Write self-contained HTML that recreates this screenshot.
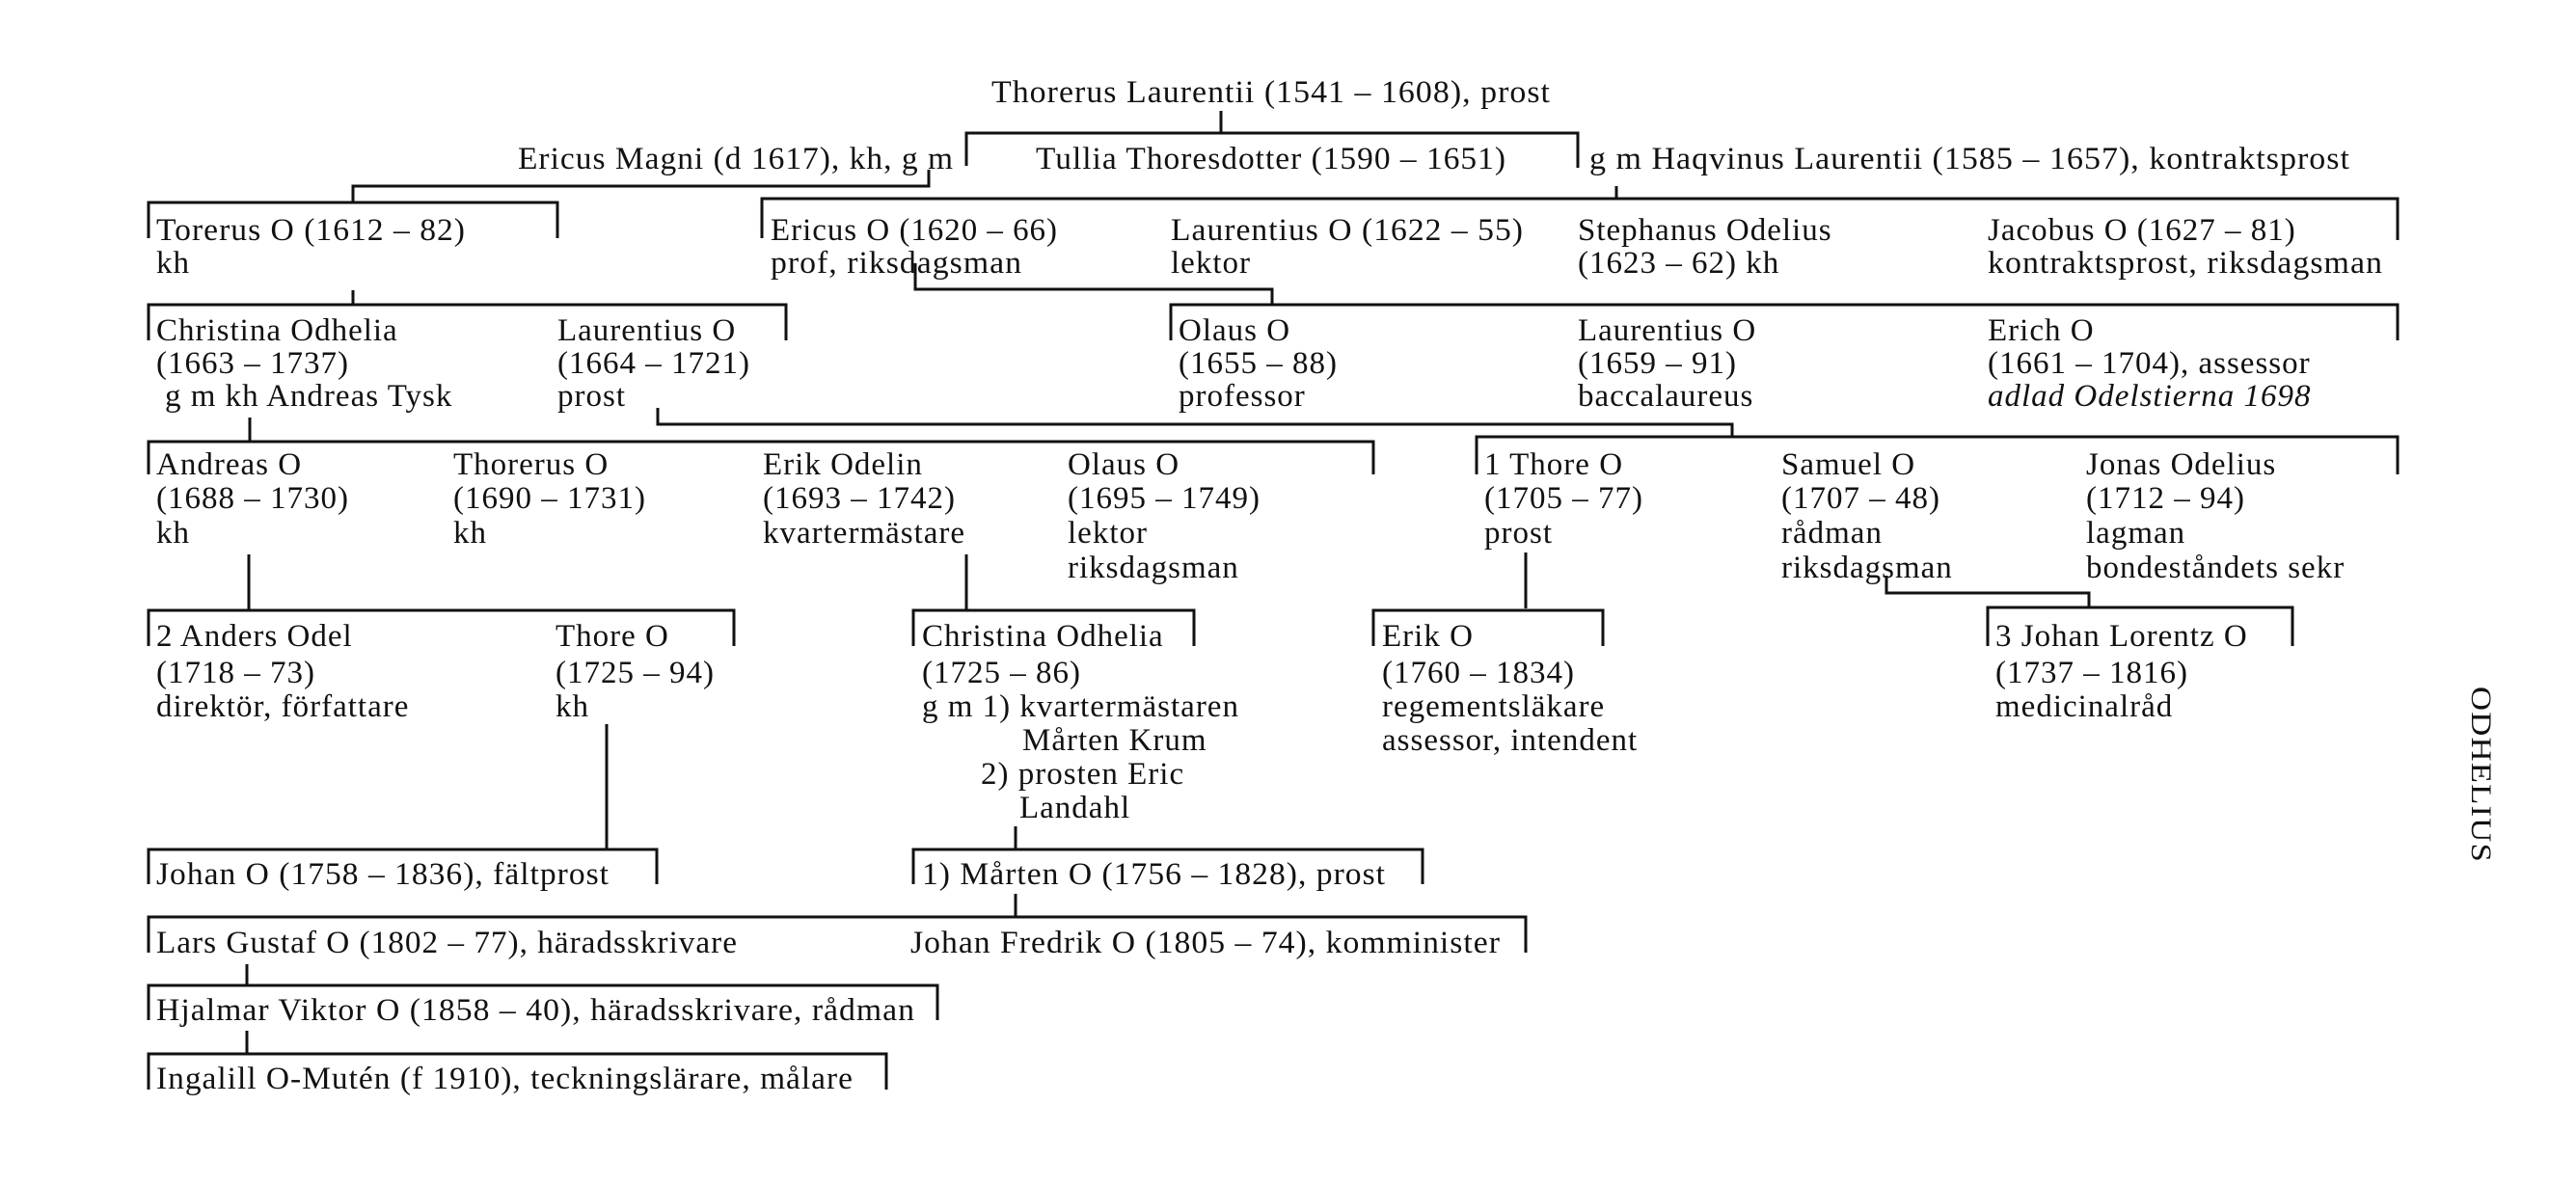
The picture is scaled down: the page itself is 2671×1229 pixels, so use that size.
<!DOCTYPE html>
<html><head><meta charset="utf-8"><style>
html,body{margin:0;padding:0;background:#fff;}
svg{display:block;}
text{font-family:"Liberation Serif",serif;font-size:33px;letter-spacing:1px;fill:#111;}
</style></head><body>
<svg width="2671" height="1229" viewBox="0 0 2671 1229" xmlns="http://www.w3.org/2000/svg">
<g fill="none" stroke="#111" stroke-width="3">
<path d="M1266 115V138M1002 172V138H1636V174"/>
<path d="M963 176V193H366V210"/>
<path d="M154 247V210H578V247"/>
<path d="M1676 193V206M790 247V206H2486V249"/>
<path d="M949 273V300H1319V316"/>
<path d="M366 301V316"/>
<path d="M154 353V316H815V353"/>
<path d="M1214 353V316H2486V353"/>
<path d="M682 423V440H1796V453"/>
<path d="M1531 492V453H2486V492"/>
<path d="M259 433V458M154 492V458H1424V492"/>
<path d="M258 575V633M1002 575V633M1582 573V631"/>
<path d="M1956 597V615H2166V630"/>
<path d="M154 670V633H761V670"/>
<path d="M947 670V633H1238V670"/>
<path d="M1424 670V633H1662V670"/>
<path d="M2061 670V630H2377V670"/>
<path d="M629 751V881M154 917V881H681V917"/>
<path d="M1053 857V881M947 917V881H1475V917"/>
<path d="M1053 927V951M154 988V951H1582V988"/>
<path d="M256 1000V1022M154 1058V1022H972V1058"/>
<path d="M256 1069V1093M154 1130V1093H919V1130"/>
</g>
<g>
<text x="1028" y="106" textLength="580" lengthAdjust="spacingAndGlyphs">Thorerus Laurentii (1541 – 1608), prost</text>
<text x="537" y="175" textLength="452" lengthAdjust="spacingAndGlyphs">Ericus Magni (d 1617), kh, g m</text>
<text x="1074" y="175" textLength="488" lengthAdjust="spacingAndGlyphs">Tullia Thoresdotter (1590 – 1651)</text>
<text x="1648" y="175" textLength="789" lengthAdjust="spacingAndGlyphs">g m Haqvinus Laurentii (1585 – 1657), kontraktsprost</text>

<text x="162" y="249" textLength="321" lengthAdjust="spacingAndGlyphs">Torerus O (1612 – 82)</text>
<text x="162" y="283">kh</text>
<text x="799" y="249" textLength="298" lengthAdjust="spacingAndGlyphs">Ericus O (1620 – 66)</text>
<text x="799" y="283" textLength="261" lengthAdjust="spacingAndGlyphs">prof, riksdagsman</text>
<text x="1214" y="249" textLength="366" lengthAdjust="spacingAndGlyphs">Laurentius O (1622 – 55)</text>
<text x="1214" y="283">lektor</text>
<text x="1636" y="249">Stephanus Odelius</text>
<text x="1636" y="283">(1623 – 62) kh</text>
<text x="2061" y="249">Jacobus O (1627 – 81)</text>
<text x="2061" y="283" textLength="410" lengthAdjust="spacingAndGlyphs">kontraktsprost, riksdagsman</text>

<text x="162" y="353">Christina Odhelia</text>
<text x="162" y="387">(1663 – 1737)</text>
<text x="171" y="421">g m kh Andreas Tysk</text>
<text x="578" y="353">Laurentius O</text>
<text x="578" y="387">(1664 – 1721)</text>
<text x="578" y="421">prost</text>
<text x="1222" y="353">Olaus O</text>
<text x="1222" y="387">(1655 – 88)</text>
<text x="1222" y="421">professor</text>
<text x="1636" y="353">Laurentius O</text>
<text x="1636" y="387">(1659 – 91)</text>
<text x="1636" y="421">baccalaureus</text>
<text x="2061" y="353">Erich O</text>
<text x="2061" y="387">(1661 – 1704), assessor</text>
<text x="2061" y="421" font-style="italic">adlad Odelstierna 1698</text>

<text x="162" y="492">Andreas O</text>
<text x="162" y="527">(1688 – 1730)</text>
<text x="162" y="563">kh</text>
<text x="470" y="492">Thorerus O</text>
<text x="470" y="527">(1690 – 1731)</text>
<text x="470" y="563">kh</text>
<text x="791" y="492">Erik Odelin</text>
<text x="791" y="527">(1693 – 1742)</text>
<text x="791" y="563">kvartermästare</text>
<text x="1107" y="492">Olaus O</text>
<text x="1107" y="527">(1695 – 1749)</text>
<text x="1107" y="563">lektor</text>
<text x="1107" y="599">riksdagsman</text>
<text x="1539" y="492">1 Thore O</text>
<text x="1539" y="527">(1705 – 77)</text>
<text x="1539" y="563">prost</text>
<text x="1847" y="492">Samuel O</text>
<text x="1847" y="527">(1707 – 48)</text>
<text x="1847" y="563">rådman</text>
<text x="1847" y="599">riksdagsman</text>
<text x="2163" y="492">Jonas Odelius</text>
<text x="2163" y="527">(1712 – 94)</text>
<text x="2163" y="563">lagman</text>
<text x="2163" y="599">bondeståndets sekr</text>

<text x="162" y="670">2 Anders Odel</text>
<text x="162" y="708">(1718 – 73)</text>
<text x="162" y="743">direktör, författare</text>
<text x="576" y="670">Thore O</text>
<text x="576" y="708">(1725 – 94)</text>
<text x="576" y="743">kh</text>
<text x="956" y="670">Christina Odhelia</text>
<text x="956" y="708">(1725 – 86)</text>
<text x="956" y="743">g m 1) kvartermästaren</text>
<text x="1060" y="778">Mårten Krum</text>
<text x="1017" y="813">2) prosten Eric</text>
<text x="1057" y="848">Landahl</text>
<text x="1433" y="670">Erik O</text>
<text x="1433" y="708">(1760 – 1834)</text>
<text x="1433" y="743">regementsläkare</text>
<text x="1433" y="778">assessor, intendent</text>
<text x="2069" y="670">3 Johan Lorentz O</text>
<text x="2069" y="708">(1737 – 1816)</text>
<text x="2069" y="743">medicinalråd</text>

<text x="162" y="917" textLength="470" lengthAdjust="spacingAndGlyphs">Johan O (1758 – 1836), fältprost</text>
<text x="956" y="917" textLength="481" lengthAdjust="spacingAndGlyphs">1) Mårten O (1756 – 1828), prost</text>
<text x="162" y="988" textLength="603" lengthAdjust="spacingAndGlyphs">Lars Gustaf O (1802 – 77), häradsskrivare</text>
<text x="944" y="988" textLength="612" lengthAdjust="spacingAndGlyphs">Johan Fredrik O (1805 – 74), komminister</text>
<text x="162" y="1058" textLength="787" lengthAdjust="spacingAndGlyphs">Hjalmar Viktor O (1858 – 40), häradsskrivare, rådman</text>
<text x="162" y="1129" textLength="723" lengthAdjust="spacingAndGlyphs">Ingalill O-Mutén (f 1910), teckningslärare, målare</text>

<text x="0" y="0" transform="translate(2563 712) rotate(90)" textLength="183" lengthAdjust="spacingAndGlyphs" style="font-size:30px">ODHELIUS</text>
</g>
</svg>
</body></html>
